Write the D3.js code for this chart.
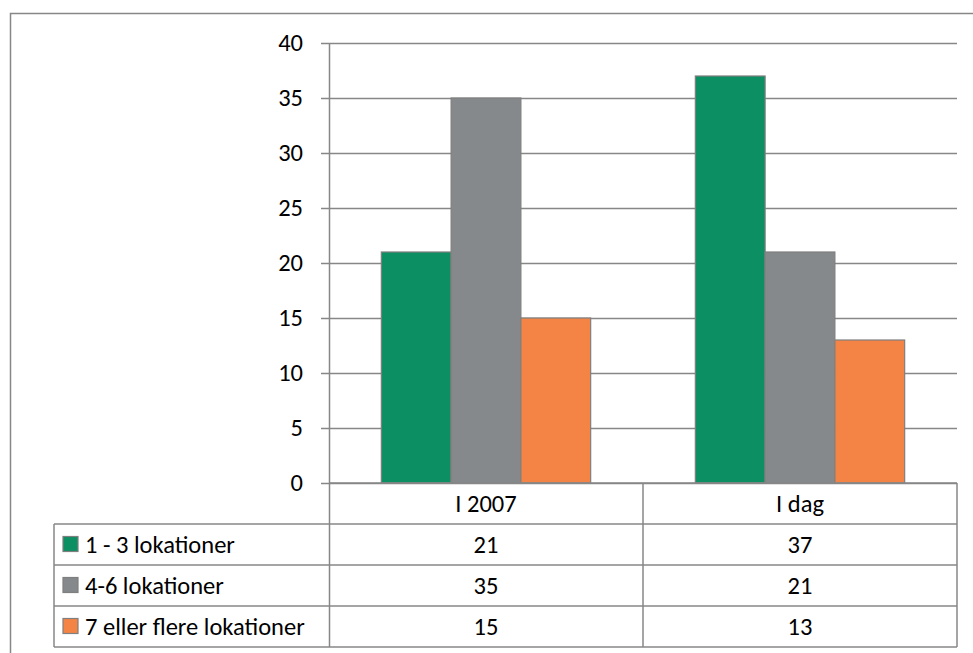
<!DOCTYPE html>
<html>
<head>
<meta charset="utf-8">
<script src="https://cdn.jsdelivr.net/npm/d3@7"></script>
<style>
  body { margin: 0; background: #fff; }
  text { font-family: Carlito, Lato, "Open Sans", sans-serif; fill: #000; }
</style>
</head>
<body>
<div id="chart"></div>
<script>
const categories = ["I 2007", "I dag"]
const series = ["1 - 3 lokationer", "4-6 lokationer", "7 eller flere lokationer"]
const values = [
    [21, 37],
    [35, 21],
    [15, 13]
]
const colors = ["#0c8f62", "#86898b", "#f38446"]
const yTicks = [0, 5, 10, 15, 20, 25, 30, 35, 40]

const W = 973, H = 653
const plot = {left: 329, right: 957, top: 43, bottom: 483}
const rowH = 41, tableLeft = 54
const line = "#878787"
const fs = 24.5

const svg = d3.select("#chart").append("svg")
    .attr("width", W).attr("height", H)

// outer chart border (runs off the right/bottom edge)
svg.append("rect")
    .attr("x", 10.5).attr("y", 13.5)
    .attr("width", 1000).attr("height", 700)
    .attr("fill", "none").attr("stroke", line).attr("stroke-width", 1.5)

const y = d3.scaleLinear().domain([0, 40]).range([plot.bottom, plot.top])
const x0 = d3.scaleBand().domain(categories).range([plot.left, plot.right])
const x1 = d3.scaleBand().domain(d3.range(series.length))
    .range([0, x0.bandwidth()]).paddingInner(0).paddingOuter(0.75)

// gridlines + tick labels
const grid = svg.append("g")
grid.selectAll("line").data(yTicks).join("line")
    .attr("x1", plot.left - 8).attr("x2", plot.right)
    .attr("y1", d => Math.round(y(d)) + 0.5).attr("y2", d => Math.round(y(d)) + 0.5)
    .attr("stroke", line).attr("stroke-width", 1.5)
grid.selectAll("text").data(yTicks).join("text")
    .attr("x", plot.left - 26).attr("y", d => y(d))
    .attr("text-anchor", "end").attr("dominant-baseline", "central")
    .attr("font-size", fs)
    .text(d => d)

// bars
series.forEach((s, si) => {
    svg.append("g").selectAll("rect").data(categories).join("rect")
        .attr("x", (c) => x0(c) + x1(si))
        .attr("y", (c, ci) => y(values[si][ci]))
        .attr("width", x1.bandwidth())
        .attr("height", (c, ci) => y(0) - y(values[si][ci]))
        .attr("fill", colors[si])
        .attr("stroke", "#7f7f7f").attr("stroke-width", 1.2)
})

// vertical axis line
svg.append("line")
    .attr("x1", plot.left + 0.5).attr("x2", plot.left + 0.5)
    .attr("y1", plot.top).attr("y2", plot.bottom + rowH * 4)
    .attr("stroke", line).attr("stroke-width", 1.5)

// data table
const tbl = svg.append("g")
const tableBottom = plot.bottom + rowH * (series.length + 1)
// horizontal lines
d3.range(series.length + 2).forEach(i => {
    const yy = plot.bottom + rowH * i
    tbl.append("line")
        .attr("x1", i <= 0 ? plot.left : tableLeft).attr("x2", plot.right)
        .attr("y1", yy).attr("y2", yy)
        .attr("stroke", line).attr("stroke-width", 1.5)
})
// vertical lines
tbl.append("line")
    .attr("x1", tableLeft).attr("x2", tableLeft)
    .attr("y1", plot.bottom + rowH).attr("y2", tableBottom)
    .attr("stroke", line).attr("stroke-width", 1.5)
categories.forEach(c => {
    const xx = x0(c) + x0.bandwidth()
    tbl.append("line")
        .attr("x1", xx).attr("x2", xx)
        .attr("y1", plot.bottom).attr("y2", tableBottom)
        .attr("stroke", line).attr("stroke-width", 1.5)
})
// header
tbl.selectAll("text.head").data(categories).join("text")
    .attr("class", "head")
    .attr("x", c => x0(c) + x0.bandwidth() / 2)
    .attr("y", plot.bottom + rowH / 2)
    .attr("text-anchor", "middle").attr("dominant-baseline", "central")
    .attr("font-size", fs)
    .text(c => c)
// rows
series.forEach((s, si) => {
    const cy = plot.bottom + rowH * (si + 1) + rowH / 2
    tbl.append("rect")
        .attr("x", tableLeft + 9).attr("y", cy - 8)
        .attr("width", 15).attr("height", 15)
        .attr("fill", colors[si]).attr("stroke", "#7f7f7f").attr("stroke-width", 1.2)
    tbl.append("text")
        .attr("x", tableLeft + 31).attr("y", cy)
        .attr("dominant-baseline", "central")
        .attr("font-size", fs)
        .text(s)
    categories.forEach((c, ci) => {
        tbl.append("text")
            .attr("x", x0(c) + x0.bandwidth() / 2).attr("y", cy)
            .attr("text-anchor", "middle").attr("dominant-baseline", "central")
            .attr("font-size", fs)
            .text(values[si][ci])
    })
})
</script>
</body>
</html>
